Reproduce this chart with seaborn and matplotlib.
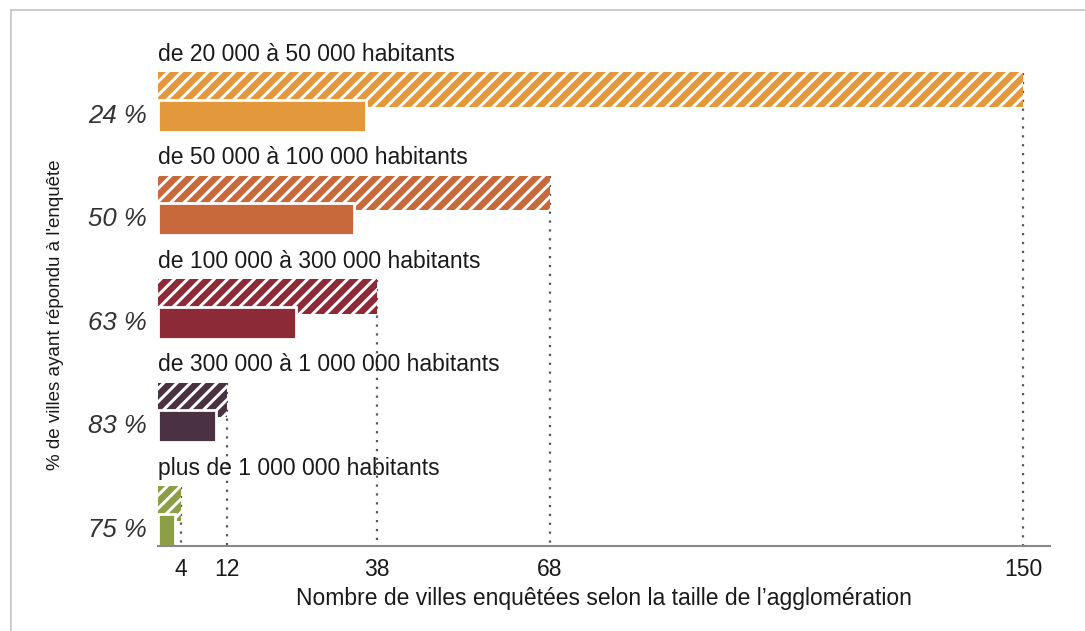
import matplotlib
matplotlib.use("Agg")
import matplotlib.pyplot as plt
from matplotlib.lines import Line2D
import seaborn as sns
import pandas as pd

categories = [
    "de 20 000 à 50 000 habitants",
    "de 50 000 à 100 000 habitants",
    "de 100 000 à 300 000 habitants",
    "de 300 000 à 1 000 000 habitants",
    "plus de 1 000 000 habitants",
]
totals = [150, 68, 38, 12, 4]
responded = [36, 34, 24, 10, 3]
pct_labels = ["24 %", "50 %", "63 %", "83 %", "75 %"]
tick_values = [4, 12, 38, 68, 150]
colors = ["#E3983C", "#C8693C", "#8C2A38", "#4B3242", "#8C9F46"]

DPI = 80
S = 100 / DPI  # scale so sizes given as "points at 100 dpi" stay the same in pixels

sns.set_theme(style="white")
plt.rcParams["font.family"] = ["Liberation Sans", "DejaVu Sans"]
plt.rcParams["hatch.color"] = "white"
plt.rcParams["hatch.linewidth"] = 2.1 * S

W, H = 1085, 631
fig = plt.figure(figsize=(W / DPI, H / DPI), dpi=DPI)
ax = fig.add_axes([158 / W, 1 - 546 / H, (1050 - 158) / W, (546 - 30) / H])

pos_total = [float(i) for i in range(len(categories))]
pos_resp = [i + 0.255 for i in range(len(categories))]

df_total = pd.DataFrame({"cat": categories, "val": totals, "pos": pos_total})
df_resp = pd.DataFrame({"cat": categories, "val": responded, "pos": pos_resp})
palette = dict(zip(categories, colors))

# dotted guide lines
for v, p in zip(totals, pos_total):
    ax.vlines(v, p - 0.16, 4.41, colors="#555555", linestyles=(0, (1, 3)),
              linewidth=1.6 * S, zorder=0.5)

sns.barplot(data=df_total, x="val", y="pos", hue="cat", palette=palette,
            orient="h", native_scale=True, width=0.33, dodge=False,
            saturation=1, legend=False, ax=ax, linewidth=0,
            edgecolor="white", zorder=1)
for p in list(ax.patches):
    p.set_hatch("//")
    p.set_edgecolor("white")
    p.set_linewidth(0)
n_hatched = len(ax.patches)

sns.barplot(data=df_resp, x="val", y="pos", hue="cat", palette=palette,
            orient="h", native_scale=True, width=0.31, dodge=False,
            saturation=1, legend=False, ax=ax, linewidth=2 * S,
            edgecolor="white", zorder=2)
for p in ax.patches[n_hatched:]:
    p.set_zorder(2)

for cat, p in zip(categories, pos_total):
    ax.text(0, p - 0.34, cat, ha="left", va="center", fontsize=16.5 * S,
            color="#1a1a1a")

for lab, p in zip(pct_labels, pos_resp):
    ax.annotate(lab, xy=(0, p), xytext=(-8 * S, 0), textcoords="offset points",
                ha="right", va="center", fontsize=18.5 * S, style="italic",
                color="#333333")

ax.set_xlim(0, 154.7)
ax.set_ylim(4.41, -0.575)
ax.set_xticks(tick_values)
ax.set_xticklabels([str(v) for v in tick_values])
ax.set_yticks([])
ax.tick_params(axis="x", length=0, pad=9 * S, labelsize=16.5 * S, colors="#1a1a1a")
ax.set_xlabel("Nombre de villes enquêtées selon la taille de l’agglomération",
              fontsize=16.5 * S, color="#1a1a1a", labelpad=4 * S)
ax.set_ylabel("")
for s in ["top", "right", "left"]:
    ax.spines[s].set_visible(False)
ax.spines["bottom"].set_color("#888888")
ax.spines["bottom"].set_linewidth(1.5 * S)
ax.set_facecolor("none")

fig.text(56 / W, 1 - 315 / H, "% de villes ayant répondu à l'enquête",
         rotation=90, ha="center", va="center", fontsize=13.5 * S, color="#1a1a1a")

# outer frame lines
fig.add_artist(Line2D([11 / W, 1], [1 - 10 / H, 1 - 10 / H], color="#c4c4c4",
                      linewidth=1.2 * S, transform=fig.transFigure))
fig.add_artist(Line2D([11 / W, 11 / W], [0, 1 - 10 / H], color="#c4c4c4",
                      linewidth=1.2 * S, transform=fig.transFigure))

fig.savefig("out.png", dpi=DPI)
